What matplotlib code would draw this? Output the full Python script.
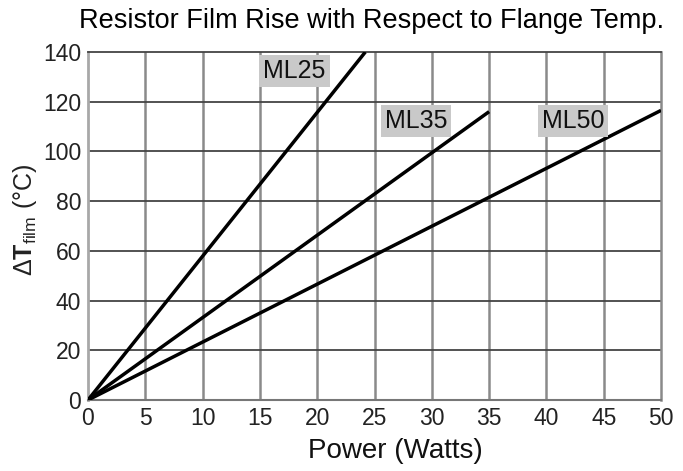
import matplotlib
matplotlib.use("Agg")
import matplotlib.pyplot as plt

# curve end points (power in W, film rise in degC)
ml25_power = [0, 24.2]
ml25_rise = [0, 140]
ml35_power = [0, 35]
ml35_rise = [0, 116]
ml50_power = [0, 50]
ml50_rise = [0, 116.5]

curve_labels = ["ML25", "ML35", "ML50"]
label_pos = [(15.3, 129.4), (25.9, 109.3), (39.6, 109.3)]

x_ticks = list(range(0, 55, 5))
y_ticks = list(range(0, 160, 20))

plt.rcParams["font.family"] = ["Liberation Sans", "DejaVu Sans"]
plt.rcParams["mathtext.fontset"] = "custom"
plt.rcParams["mathtext.rm"] = "Liberation Sans"
plt.rcParams["mathtext.bf"] = "Liberation Sans:bold"

fig = plt.figure(figsize=(6.83, 4.71), dpi=100)
ax = fig.add_axes([88 / 683, 71 / 471, 573 / 683, 348 / 471])

ax.set_xlim(0, 50)
ax.set_ylim(0, 140)
ax.set_xticks(x_ticks)
ax.set_yticks(y_ticks)

for x in x_ticks[1:-1]:
    ax.axvline(x, color="#8a8a8a", lw=1.8, zorder=1)
for y in y_ticks[1:-1]:
    ax.axhline(y, color="#444444", lw=1.3, zorder=1)

for p, r in [(ml25_power, ml25_rise), (ml35_power, ml35_rise), (ml50_power, ml50_rise)]:
    ax.plot(p, r, color="black", lw=2.5, solid_capstyle="butt", zorder=3)

for name, (tx, ty) in zip(curve_labels, label_pos):
    ax.text(tx, ty, name, fontsize=18, ha="left", va="baseline", zorder=4,
            color="#111111",
            bbox=dict(boxstyle="square,pad=0.16", fc="#c9c9c9", ec="none"))

ax.spines["left"].set_color("#a8a8a8")
ax.spines["left"].set_linewidth(2)
ax.spines["right"].set_color("#8a8a8a")
ax.spines["right"].set_linewidth(1.8)
ax.spines["top"].set_color("#444444")
ax.spines["top"].set_linewidth(1.3)
ax.spines["bottom"].set_color("#777777")
ax.spines["bottom"].set_linewidth(1.5)

ax.tick_params(length=0, pad=5, labelsize=16.5, labelcolor="#222222")

fig.text(372 / 683, (471 - 28) / 471, "Resistor Film Rise with Respect to Flange Temp.",
         fontsize=19.5, ha="center", va="baseline", color="black")
fig.text(395 / 683, (471 - 458) / 471, "Power (Watts)",
         fontsize=20, ha="center", va="baseline", color="#111111")
fig.text(25 / 683, (471 - 220) / 471, r"$\Delta\mathbf{T}_{\mathrm{film}}$ (°C)",
         fontsize=18, ha="center", va="center", rotation=90, color="#222222")

fig.savefig("out.png", dpi=100)
